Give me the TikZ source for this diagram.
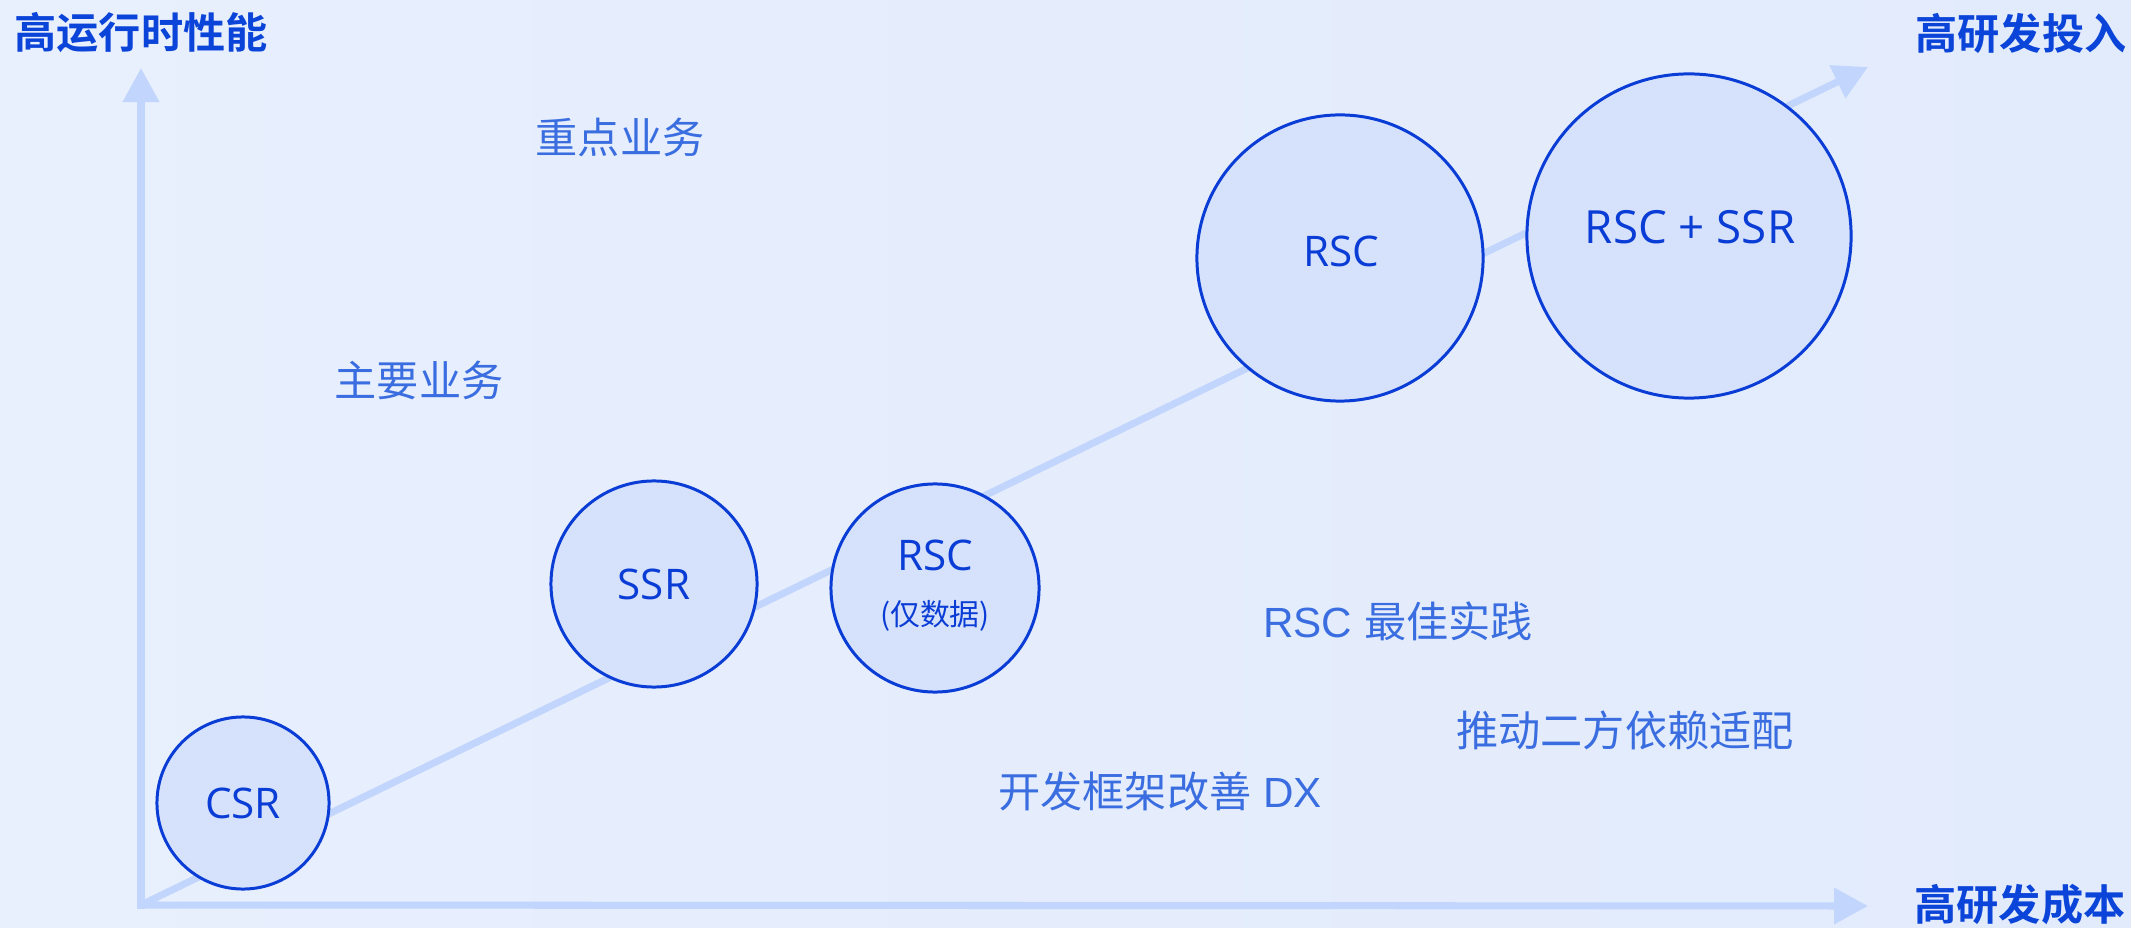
\documentclass[tikz,border=0pt]{standalone}
\usepackage{fontspec}
\usetikzlibrary{arrows.meta}
\setmainfont{Liberation Sans}
\newfontfamily\cjk{Noto Sans CJK SC}
\newfontfamily\cjkbold{Noto Sans CJK SC Bold}
\newfontfamily\bubblefont{Open Sans}
\definecolor{bgleft}{HTML}{E8EFFD}
\definecolor{bgright}{HTML}{E2EBFC}
\definecolor{axiscol}{HTML}{C2D5FC}
\definecolor{bubblefill}{HTML}{D6E2FB}
\definecolor{bubbleline}{HTML}{0A3CD6}
\definecolor{titlecol}{HTML}{0B44D8}
\definecolor{notecol}{HTML}{3A6EE0}
\tikzset{
  axisline/.style={draw=axiscol, line width=2pt,
    -{Triangle[length=0.34cm,width=0.35cm]}},
  bubble/.style={circle, draw=bubbleline, fill=bubblefill, line width=0.85pt,
    inner sep=0pt, text=bubbleline, font=\bubblefont\fontsize{12}{14}\selectfont, align=center},
  axistitle/.style={text=titlecol, font=\cjkbold\fontsize{12}{14}\selectfont, inner sep=0pt},
  note/.style={text=notecol, font=\fontsize{12}{14}\selectfont, inner sep=0pt}
}
\begin{document}
\begin{tikzpicture}[x=0.01cm, y=-0.01cm]
  % canvas
  \shade[left color=bgleft, right color=bgright] (0,0) rectangle (2131,928);
  \useasboundingbox (0,0) rectangle (2131,928);

  % axes and trend line
  \coordinate (origin) at (141,905);
  \coordinate (ytip) at (141,68);
  \coordinate (xtip) at (1868,906);
  \coordinate (trendtip) at (1868,67);
  \draw[axisline, line cap=rect] (origin) -- (ytip);
  \draw[axisline, line cap=rect] (origin) -- (xtip);
  \draw[axisline] (origin) -- (trendtip);

  % axis titles
  \node[axistitle] (ttop) at (141,33) {高运行时性能};
  \node[axistitle] (tinvest) at (2021,33) {高研发投入};
  \node[axistitle] (tcost) at (2020,905) {高研发成本};

  % rendering strategies
  \node[bubble, minimum size=1.72cm] (csr) at (243,803) {CSR};
  \node[bubble, minimum size=2.06cm] (ssr) at (654,584) {SSR};
  \node[bubble, minimum size=2.08cm] (rscdata) at (935,588) {};
  \node[text=bubbleline, font=\bubblefont\fontsize{12}{14}\selectfont, inner sep=0pt] (rscdatatop) at (935,555) {RSC};
  \node[text=bubbleline, font=\cjk\fontsize{8.5}{10}\selectfont, inner sep=0pt] (rscdatasub) at (935,616) {(仅数据)};
  \node[bubble, minimum size=2.86cm] (rsc) at (1340,258) {};
  \node[text=bubbleline, font=\bubblefont\fontsize{12}{14}\selectfont, inner sep=0pt] (rsclabel) at (1341,251) {RSC};
  \node[bubble, minimum size=3.24cm] (rscssr) at (1689,236) {};
  \node[text=bubbleline, font=\bubblefont\fontsize{13}{15}\selectfont, inner sep=0pt] (rscssrlabel) at (1690,227) {RSC + SSR};

  % notes
  \node[note] (keybiz) at (620,137) {\cjk 重点业务};
  \node[note] (mainbiz) at (419,380) {\cjk 主要业务};
  \node[note] (best) at (1398,621) {RSC {\cjk 最佳实践}};
  \node[note] (deps) at (1625,730) {\cjk 推动二方依赖适配};
  \node[note] (dx) at (1160,791) {{\cjk 开发框架改善} DX};
\end{tikzpicture}
\end{document}
